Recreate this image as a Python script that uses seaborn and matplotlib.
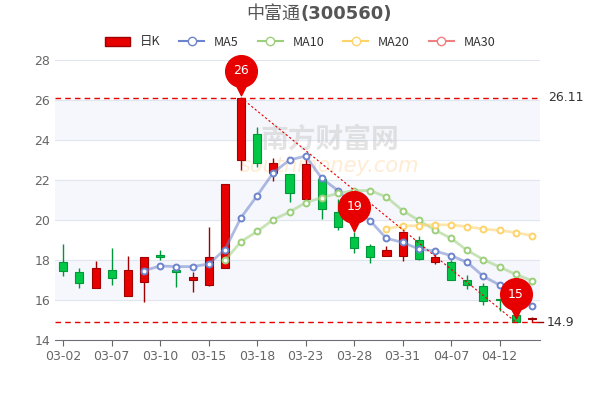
import matplotlib
matplotlib.use("Agg")
import matplotlib.pyplot as plt
import seaborn as sns
import numpy as np
import pandas as pd

dates = ["03-02","03-03","03-04","03-07","03-08","03-09","03-10","03-11","03-14","03-15",
         "03-16","03-17","03-18","03-21","03-22","03-23","03-24","03-25","03-28","03-29",
         "03-30","03-31","04-01","04-06","04-07","04-08","04-11","04-12","04-13","04-14"]
opens  = [17.92,17.42,16.62,17.50,16.20,16.92,18.23,17.50,17.00,16.77,17.62,23.00,24.28,22.33,22.28,
          21.03,22.03,20.42,19.17,18.70,18.20,18.22,19.00,17.90,17.90,17.00,16.72,16.05,15.25,15.05]
closes = [17.47,16.87,17.62,17.12,17.50,18.17,18.13,17.38,17.15,18.15,21.78,26.11,22.83,22.83,21.33,
          22.80,20.53,19.67,18.58,18.13,18.50,19.42,18.05,18.13,17.00,16.73,15.95,16.00,14.92,15.05]
highs  = [18.78,17.58,17.95,18.58,18.20,18.17,18.50,17.50,17.40,19.67,21.78,26.11,24.67,23.08,22.28,
          23.20,22.03,21.05,19.40,18.78,18.70,19.45,19.20,18.30,18.00,17.23,16.83,16.05,15.60,15.15]
lows   = [17.20,16.62,16.62,16.73,16.20,15.90,18.00,16.63,16.40,16.70,17.62,22.50,22.67,21.95,20.92,
          20.90,20.03,19.50,18.33,17.83,18.20,17.95,18.00,17.80,17.00,16.53,15.75,15.45,14.90,14.90]
ma5  = [None]*5 + [17.47,17.70,17.67,17.67,17.80,18.52,20.12,21.22,22.37,23.00,23.20,22.08,21.47,20.67,
                   19.95,19.08,18.88,18.55,18.45,18.22,17.88,17.18,16.75,16.25,15.70]
ma10 = [None]*10 + [17.98,18.92,19.43,20.02,20.40,20.87,21.12,21.33,21.47,21.47,21.15,20.47,19.98,19.50,
                    19.08,18.48,18.02,17.65,17.28,16.97]
ma20 = [None]*20 + [19.57,19.70,19.72,19.77,19.75,19.67,19.55,19.48,19.37,19.22]
high_val, low_val = 26.11, 14.9

df = pd.DataFrame({"i": np.arange(len(dates)), "MA5": ma5, "MA10": ma10, "MA20": ma20}).astype(float)

fig = plt.figure(figsize=(6, 4), dpi=100)
ax = fig.add_axes([0.092, 0.15, 0.808, 0.70])
RED, GREEN = "#e60000", "#00c846"

for lo in [16, 20, 24]:
    ax.axhspan(lo, lo + 2, color="#f5f7fc", zorder=0)
for y in range(14, 29, 2):
    ax.axhline(y, color="#e0e5f0", lw=0.8, zorder=0)

ax.text(16.5, 24.0, "南方财富网", fontsize=20, color="#c8c8c8", alpha=0.5,
        fontfamily="Noto Sans CJK SC", ha="center", va="center", fontweight="bold", zorder=1)
ax.text(16.5, 22.7, "southmoney.com", fontsize=15, color="#ffd9a8", alpha=0.5, style="italic",
        ha="center", va="center", zorder=1)

for i, (o, c, h, l) in enumerate(zip(opens, closes, highs, lows)):
    col = RED if c >= o else GREEN
    ec = "#a00000" if c >= o else "#00963a"
    ax.vlines(i, l, h, color=ec, lw=1, zorder=2)
    ax.bar(i, max(abs(c - o), 0.06), bottom=min(o, c), width=0.5, color=col, edgecolor=ec, lw=0.8, zorder=3)

styles = {"MA5": "#6d84cc", "MA10": "#9ccf7c", "MA20": "#fdd36a"}
for k, col in styles.items():
    sns.lineplot(data=df, x="i", y=k, ax=ax, color=col, lw=2, alpha=0.55, zorder=4, legend=False)
    ax.scatter(df["i"], df[k], s=18, facecolor="white", edgecolor=col, linewidth=1.4, zorder=4.5)

ax.axhline(high_val, color=RED, ls=(0, (4, 3)), lw=1, zorder=5)
ax.axhline(low_val, color=RED, ls=(0, (4, 3)), lw=1, zorder=5)
ax.plot([11, 28], [high_val, low_val], color=RED, ls=(0, (2, 2)), lw=0.8, zorder=5)
ax.text(30.0, high_val, "26.11", va="center", fontsize=9, color="#333", clip_on=False)
ax.text(29.9, low_val, "14.9", va="center", fontsize=9, color="#333", clip_on=False)
ax.plot([29.3, 29.7], [low_val, low_val], color="#a00000", lw=1, clip_on=False)

for idx, yv, lab in [(11, 26.11, "26"), (18, 19.3, "19"), (28, 14.95, "15")]:
    ax.scatter([idx], [yv + 0.5], marker="v", s=110, color=RED, zorder=6, clip_on=False)
    ax.scatter([idx], [yv + 1.35], marker="o", s=520, color=RED, zorder=6, clip_on=False)
    ax.text(idx, yv + 1.35, lab, color="white", ha="center", va="center", fontsize=9, zorder=7)

ax.set_xlim(-0.5, 29.5)
ax.set_ylim(14, 28)
ax.set_yticks(range(14, 29, 2))
ax.set_xticks(range(0, 30, 3))
ax.set_xticklabels(dates[::3])
ax.tick_params(axis="y", length=0, colors="#666", labelsize=9)
ax.tick_params(axis="x", colors="#666", labelsize=9, length=4)
for s in ["top", "right", "left"]:
    ax.spines[s].set_visible(False)
ax.spines["bottom"].set_color("#6e7079")
ax.set_xlabel(""); ax.set_ylabel("")

fig.text(0.5, 0.965, "中富通", fontsize=13, color="#555", ha="right", va="center",
         fontfamily="Noto Sans CJK SC")
fig.text(0.5, 0.965, "(300560)", fontsize=13, color="#555", ha="left", va="center", fontweight="bold")

from matplotlib.lines import Line2D
from matplotlib.patches import Patch
handles = [Patch(facecolor=RED, edgecolor="#a00000", label="日K"),
           Line2D([], [], color="#6d84cc", marker="o", mfc="white", label="MA5"),
           Line2D([], [], color="#9ccf7c", marker="o", mfc="white", label="MA10"),
           Line2D([], [], color="#fdd36a", marker="o", mfc="white", label="MA20"),
           Line2D([], [], color="#f08080", marker="o", mfc="white", label="MA30")]
leg = fig.legend(handles=handles, loc="center", bbox_to_anchor=(0.5, 0.895), ncol=5, frameon=False,
                 handlelength=2, columnspacing=1.5,
                 prop={"family": "Noto Sans CJK SC", "size": 9})
for t in leg.get_texts():
    t.set_color("#333")

fig.savefig("out.png", dpi=100)
